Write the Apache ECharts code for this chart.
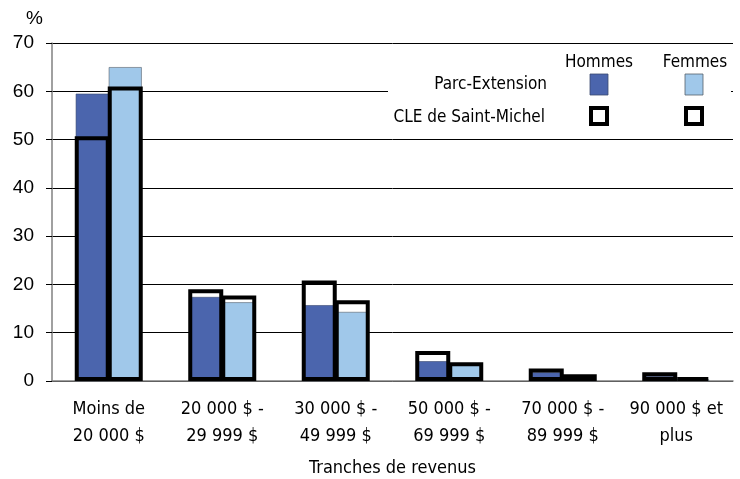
<!DOCTYPE html>
<html><head><meta charset="utf-8">
<script src="https://cdn.jsdelivr.net/npm/echarts@6/dist/echarts.min.js"></script>
<style>html,body{margin:0;padding:0;background:#fff}#c{width:740px;height:479px}</style>
</head><body><div id="c"></div>
<script>
const categories = ["Moins de\n20 000 $", "20 000 $ -\n29 999 $", "30 000 $ -\n49 999 $", "50 000 $ -\n69 999 $", "70 000 $ -\n89 999 $", "90 000 $ et\nplus"];
const parcHommes = [59.5, 17.4, 15.7, 4.1, 1.8, 1.0];
const parcFemmes = [65.0, 16.3, 14.3, 3.4, 0.6, 0.3];
const cleHommes = [50.7, 19.0, 20.8, 6.2, 2.6, 1.8];
const cleFemmes = [61.0, 17.7, 16.7, 3.9, 1.4, 0.8];
const yTicks = [0, 10, 20, 30, 40, 50, 60, 70];

const labelFont = "'Liberation Sans Narrow','DejaVu Sans Condensed',sans-serif";
const chart = echarts.init(document.getElementById('c'), null, {renderer: 'canvas'});
const bw = 33;
const cw = 35;
chart.setOption({
  animation: false,
  grid: {left: 52, right: 7, top: 43, bottom: 98, outerBoundsMode: 'none', containLabel: false},
  xAxis: [{
    type: 'category', data: categories,
    axisLine: {lineStyle: {color: '#808080', width: 1.5}},
    axisTick: {show: false},
    axisLabel: {interval: 0, color: '#000', fontFamily: labelFont, fontSize: 18, lineHeight: 27, margin: 15},
    name: 'Tranches de revenus', nameLocation: 'middle', nameGap: 78,
    nameTextStyle: {color: '#000', fontFamily: labelFont, fontSize: 18}
  }, {
    type: 'category', data: categories, show: false
  }],
  yAxis: {
    type: 'value', min: yTicks[0], max: yTicks[yTicks.length - 1], interval: 10,
    axisLine: {show: true, lineStyle: {color: '#808080', width: 1.5}},
    axisTick: {show: true, length: 6, lineStyle: {color: '#000'}},
    splitLine: {lineStyle: {color: '#000', width: 1}},
    axisLabel: {color: '#000', fontFamily: "'Liberation Sans',Arial,sans-serif", fontSize: 19, margin: 18}
  },
  series: [
    {name: 'Parc H', type: 'bar', xAxisIndex: 0, data: parcHommes, barWidth: bw, barGap: '0%',
     itemStyle: {color: '#4b65ad', borderColor: '#3a4a70', borderWidth: 0.6}},
    {name: 'Parc F', type: 'bar', xAxisIndex: 0, data: parcFemmes, barWidth: bw, barGap: '0%',
     itemStyle: {color: '#a0c8ea', borderColor: '#55606a', borderWidth: 0.6}},
    {name: 'CLE H', type: 'bar', xAxisIndex: 1, data: cleHommes, barWidth: cw, barGap: (-200 / cw).toFixed(2) + '%', z: 5,
     itemStyle: {color: 'rgba(0,0,0,0)', borderColor: '#000', borderWidth: 4}},
    {name: 'CLE F', type: 'bar', xAxisIndex: 1, data: cleFemmes, barWidth: cw, barGap: (-200 / cw).toFixed(2) + '%', z: 5,
     itemStyle: {color: 'rgba(0,0,0,0)', borderColor: '#000', borderWidth: 4}}
  ],
  graphic: [
    {type: 'text', x: 26, y: 19, style: {text: '%', fill: '#000', font: "19px 'Liberation Sans',Arial,sans-serif", verticalAlign: 'middle'}},
    {type: 'rect', shape: {x: 388, y: 50, width: 343, height: 84}, style: {fill: '#fff'}, z: 10},
    {type: 'text', x: 599, y: 63, z: 11, style: {text: 'Hommes', fill: '#000', font: "17px " + labelFont, align: 'center', verticalAlign: 'middle'}},
    {type: 'text', x: 695, y: 63, z: 11, style: {text: 'Femmes', fill: '#000', font: "17px " + labelFont, align: 'center', verticalAlign: 'middle'}},
    {type: 'text', x: 547, y: 85, z: 11, style: {text: 'Parc-Extension', fill: '#000', font: "17px " + labelFont, align: 'right', verticalAlign: 'middle'}},
    {type: 'text', x: 545, y: 118, z: 11, style: {text: 'CLE de Saint-Michel', fill: '#000', font: "17px " + labelFont, align: 'right', verticalAlign: 'middle'}},
    {type: 'rect', z: 11, shape: {x: 590, y: 74, width: 18, height: 21}, style: {fill: '#4b65ad', stroke: '#3a4a70', lineWidth: 0.8}},
    {type: 'rect', z: 11, shape: {x: 685, y: 74, width: 18, height: 21}, style: {fill: '#a0c8ea', stroke: '#55606a', lineWidth: 0.8}},
    {type: 'rect', z: 11, shape: {x: 591, y: 108, width: 16, height: 16}, style: {fill: '#fff', stroke: '#000', lineWidth: 4}},
    {type: 'rect', z: 11, shape: {x: 686, y: 108, width: 16, height: 16}, style: {fill: '#fff', stroke: '#000', lineWidth: 4}}
  ]
});
</script></body></html>
